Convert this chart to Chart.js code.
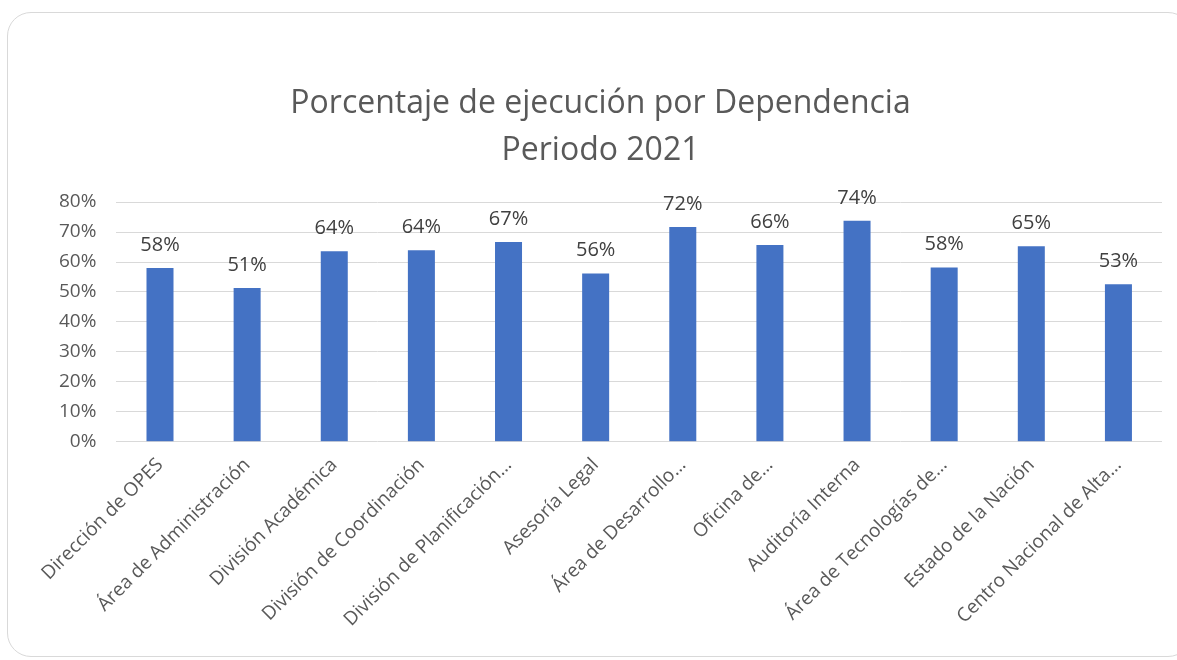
<!DOCTYPE html>
<html>
<head>
<meta charset="utf-8">
<script src="https://cdn.jsdelivr.net/npm/chart.js@4"></script>
<style>
    html, body { margin: 0; padding: 0; background: #ffffff; overflow: hidden; }
    #card {
        position: absolute; left: 7px; top: 12px; width: 1185px; height: 645px;
        border: 1px solid #d9d9d9; border-radius: 24px; box-sizing: border-box;
    }
    #wrap { position: absolute; left: 0; top: 0; width: 1177px; height: 660px; }
</style>
</head>
<body>
<div id="card"></div>
<div id="wrap"><canvas id="myBarChart"></canvas></div>
<script>
const categories = [
    'Dirección de OPES',
    'Área de Administración',
    'División Académica',
    'División de Coordinación',
    'División de Planificación…',
    'Asesoría Legal',
    'Área de Desarrollo…',
    'Oficina de…',
    'Auditoría Interna',
    'Área de Tecnologías de…',
    'Estado de la Nación',
    'Centro Nacional de Alta…'
];
const ejecucion = [0.58, 0.513, 0.636, 0.639, 0.667, 0.562, 0.717, 0.657, 0.738, 0.582, 0.653, 0.526];
const title_lines = ['Porcentaje de ejecución por Dependencia', 'Periodo 2021'];

const font_name = "'Open Sans', 'Noto Sans', sans-serif";

// etiquetas de valor encima de cada barra
const bar_labels = {
    id: 'bar_labels',
    afterDatasetsDraw(chart) {
        const ctx = chart.ctx;
        const meta = chart.getDatasetMeta(0);
        ctx.save();
        ctx.font = '20px ' + font_name;
        ctx.fillStyle = '#404040';
        ctx.textAlign = 'center';
        ctx.textBaseline = 'alphabetic';
        meta.data.forEach((bar, i) => {
            ctx.fillText(Math.round(ejecucion[i] * 100) + '%', bar.x, bar.y - 17);
        });
        ctx.restore();
    }
};

function bar_graph(labels, values) {
    const ctx = document.getElementById('myBarChart').getContext('2d');

    window.myBarChart = new Chart(ctx, {
        type: 'bar',
        data: {
            labels: labels,
            datasets: [{
                label: 'Ejecución',
                data: values,
                backgroundColor: '#4472C4',
                borderColor: '#4472C4',
                borderWidth: 0,
                barPercentage: 0.31,
                categoryPercentage: 1.0
            }]
        },
        options: {
            responsive: true,
            maintainAspectRatio: false,
            animation: false,
            layout: {
                padding: { left: 39, right: 15, top: 80, bottom: 25 }
            },
            plugins: {
                legend: { display: false },
                tooltip: { enabled: false },
                title: {
                    display: true,
                    text: title_lines,
                    color: '#595959',
                    font: { family: font_name, size: 32, weight: 'normal', lineHeight: 1.47 },
                    padding: { top: 0, bottom: 28 }
                }
            },
            scales: {
                x: {
                    grid: { display: false },
                    border: { display: false },
                    ticks: {
                        color: '#595959',
                        font: { family: font_name, size: 19 },
                        minRotation: 45,
                        maxRotation: 45,
                        autoSkip: false,
                        padding: 4
                    }
                },
                y: {
                    min: 0,
                    max: 0.8,
                    grid: { color: '#d9d9d9', lineWidth: 1, drawTicks: false },
                    border: { display: false },
                    ticks: {
                        stepSize: 0.1,
                        color: '#595959',
                        font: { family: font_name, size: 19 },
                        padding: 20,
                        callback: (v) => Math.round(v * 100) + '%'
                    }
                }
            }
        },
        plugins: [bar_labels]
    });
}

bar_graph(categories, ejecucion);
</script>
</body>
</html>
